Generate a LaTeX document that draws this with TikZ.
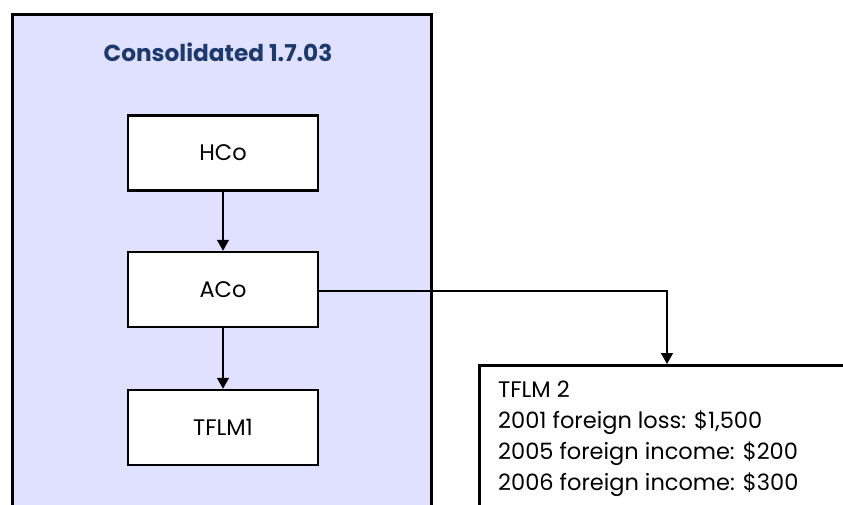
\documentclass[tikz,border=0pt]{standalone}
\usepackage{fontspec}
\setmainfont{Poppins}
\usetikzlibrary{arrows.meta}
\definecolor{lav}{RGB}{224,224,255}
\definecolor{navy}{RGB}{28,58,108}
\begin{document}
\begin{tikzpicture}[x=1pt,y=-1pt,
  box/.style={draw=black,line width=2.5pt,fill=white,minimum width=190pt,minimum height=75pt,inner sep=0pt,font=\fontsize{22.5}{26}\selectfont},
  conn/.style={line width=1.4pt,-{Triangle[width=12pt,length=11pt]}},
  ]
\useasboundingbox (0,0) rectangle (843,505);
\clip (0,0) rectangle (843,505);
\node[draw=black,line width=3pt,fill=lav,minimum width=419pt,minimum height=520pt,inner sep=0pt,anchor=north west] (cons) at (11,13) {};
\node[font=\bfseries\fontsize{23.2}{26}\selectfont,text=navy] (title) at (218,52) {Consolidated 1.7.03};
\node[box] (hco) at (223,153) {HCo};
\node[box] (aco) at (223,289.5) {ACo};
\node[box] (tflm1) at (223,427.5) {TFLM1};
\node[draw=black,line width=2.5pt,fill=white,minimum width=400pt,minimum height=200pt,anchor=north west,inner sep=0pt] (tflm2) at (478,364) {};
\node[anchor=north west,align=left,font=\fontsize{22.5}{31}\selectfont,inner sep=0pt] (t2text) at (498,381) {TFLM 2\\2001 foreign loss: \$1,500\\2005 foreign income: \$200\\2006 foreign income: \$300};
\draw[conn] (hco) -- (aco);
\draw[conn] (aco) -- (tflm1);
\coordinate (corner) at (667,291);
\draw[conn] (aco.east |- corner) -- (corner) -- (corner |- tflm2.north);
\end{tikzpicture}
\end{document}
